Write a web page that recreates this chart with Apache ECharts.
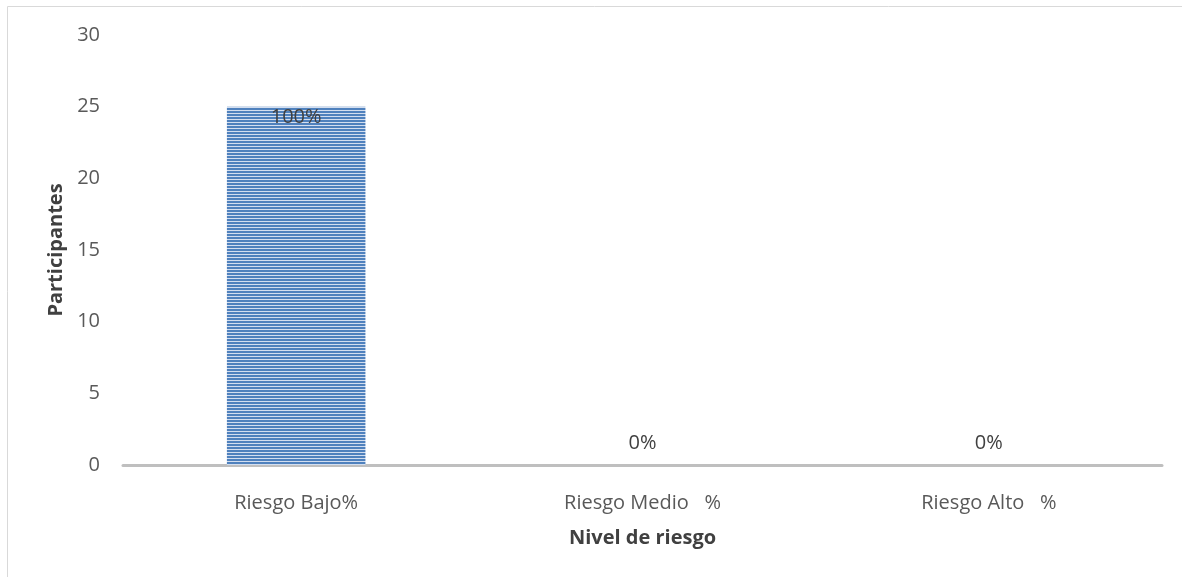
<!DOCTYPE html>
<html><head><meta charset="utf-8">
<script src="https://cdn.jsdelivr.net/npm/echarts@6/dist/echarts.min.js"></script>
<style>html,body{margin:0;padding:0;background:#fff}#c{width:1182px;height:577px}</style>
</head><body><div id="c"></div>
<script>
const categories = ['Riesgo Bajo%', 'Riesgo Medio   %', 'Riesgo Alto   %'];
const values = [25, 0, 0];
const pctLabels = ['100%', '0%', '0%'];
const yTicks = [0, 5, 10, 15, 20, 25, 30];

const pc = document.createElement('canvas');
pc.width = 4; pc.height = 3;
const g = pc.getContext('2d');
g.fillStyle = '#4F81BD'; g.fillRect(0, 0, 4, 2);
g.fillStyle = '#D3DEEF'; g.fillRect(0, 2, 4, 1);

const font = '"Open Sans", sans-serif';
const chart = echarts.init(document.getElementById('c'));
chart.setOption({
  animation: false,
  graphic: [
    {type: 'line', shape: {x1: 7.5, y1: 6.5, x2: 1182, y2: 6.5}, style: {stroke: '#D9D9D9', lineWidth: 1}, z: -1},
    {type: 'line', shape: {x1: 7.5, y1: 6.5, x2: 7.5, y2: 577}, style: {stroke: '#D9D9D9', lineWidth: 1}, z: -1}
  ],
  grid: {left: 123, right: 20, top: 35, bottom: 112},
  xAxis: {
    type: 'category', data: categories,
    name: 'Nivel de riesgo', nameLocation: 'middle', nameGap: 63,
    nameTextStyle: {fontFamily: font, fontSize: 20, fontWeight: 'bold', color: '#404040'},
    axisLine: {lineStyle: {color: '#BFBFBF', width: 3}},
    axisTick: {show: false},
    axisLabel: {fontFamily: font, fontSize: 20, color: '#595959', margin: 28}
  },
  yAxis: {
    type: 'value', min: yTicks[0], max: yTicks[yTicks.length - 1], interval: 5,
    name: 'Participantes', nameLocation: 'middle', nameGap: 56,
    nameTextStyle: {fontFamily: font, fontSize: 20, fontWeight: 'bold', color: '#404040'},
    axisLine: {show: false}, axisTick: {show: false}, splitLine: {show: false},
    axisLabel: {fontFamily: font, fontSize: 20, color: '#595959', margin: 23}
  },
  series: [{
    type: 'bar', barWidth: '40%',
    data: values.map((v, i) => ({
      value: v,
      label: i === 0 ? {position: 'insideTop', distance: 1} : {position: 'top', distance: 12}
    })),
    itemStyle: {color: {image: pc, repeat: 'repeat'}},
    label: {show: true, fontFamily: font, fontSize: 20, color: '#404040',
      formatter: p => pctLabels[p.dataIndex]}
  }]
});
</script></body></html>
